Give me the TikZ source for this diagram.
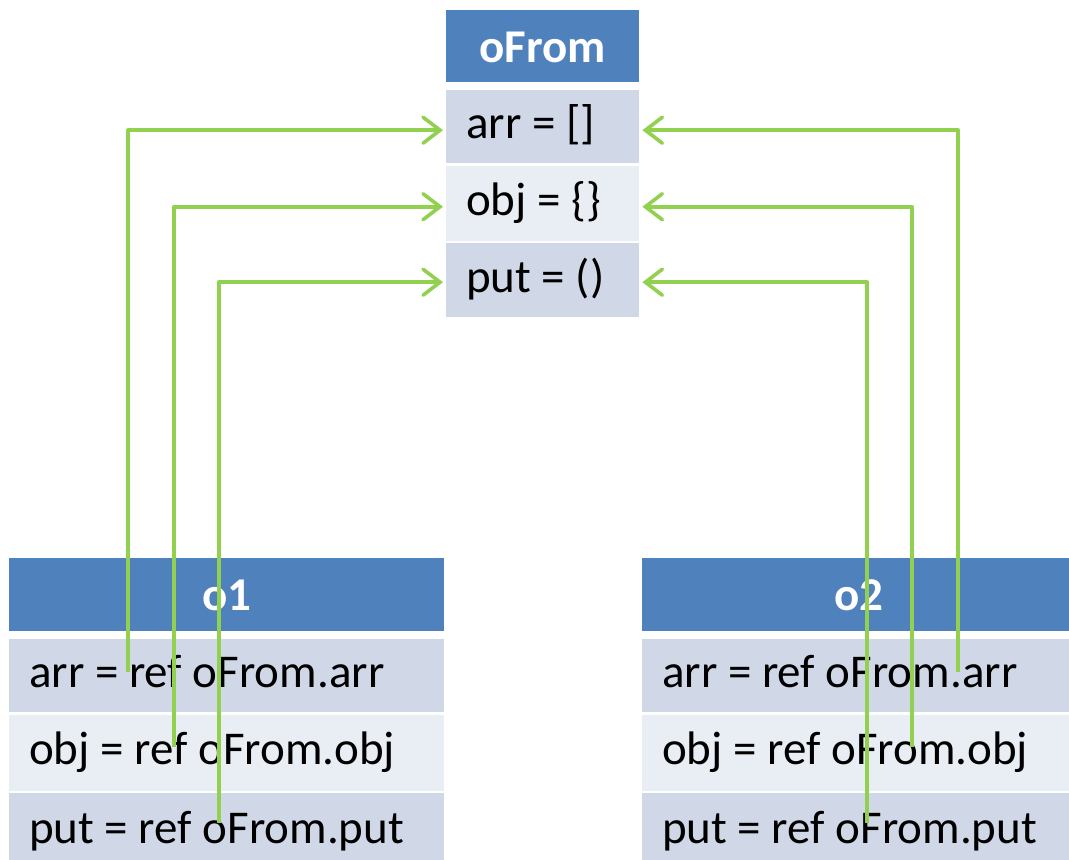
\documentclass[tikz,border=0pt]{standalone}
\usepackage{fontspec}
\setmainfont{Carlito}
\usetikzlibrary{arrows.meta}
\definecolor{hdr}{HTML}{4F81BD}
\definecolor{rowA}{HTML}{D0D8E8}
\definecolor{rowB}{HTML}{E9EDF4}
\definecolor{linkc}{HTML}{92D050}
\begin{document}
\begin{tikzpicture}[x=1pt,y=-1pt,
  cell/.style={rectangle, anchor=north west, inner xsep=20pt, inner ysep=0pt,
    font=\fontsize{47}{56}\selectfont, text height=34pt, text depth=10pt, align=flush left},
  headcell/.style={cell, fill=hdr, text=white, align=flush center,
    font=\fontsize{47}{56}\selectfont\bfseries, text height=36pt, text depth=4pt},
  rowa/.style={cell, fill=rowA},
  rowb/.style={cell, fill=rowB},
  link/.style={draw=linkc, line width=3.6pt, line join=round,
    -{Straight Barb[length=17pt,width=26pt,line cap=round]}, shorten >=3pt}]
\useasboundingbox (0,0) rectangle (1069,860);
\fill[white] (0,0) rectangle (1069,860);
% oFrom
\node[headcell, text width=153pt, minimum height=72pt] (fhead) at (446,10) {oFrom};
\node[rowa, text width=153pt, minimum height=73pt] (farr) at (446,90) {arr = []};
\node[rowb, text width=153pt, minimum height=75pt] (fobj) at (446,165.5) {obj = \{\}};
\node[rowa, text width=153pt, minimum height=74pt] (fput) at (446,243) {put = ()};
% o1
\node[headcell, text width=395pt, minimum height=73pt] (ahead) at (9,558) {o1};
\node[rowa, text width=395pt, minimum height=73pt] (aarr) at (9,639) {arr = ref oFrom.arr};
\node[rowb, text width=395pt, minimum height=76pt] (aobj) at (9,714.5) {obj = ref oFrom.obj};
\node[rowa, text width=395pt, minimum height=77pt] (aput) at (9,793) {put = ref oFrom.put};
% o2
\node[headcell, text width=394pt, minimum height=73pt] (bhead) at (642,558) {o2};
\node[rowa, text width=394pt, minimum height=73pt] (barr) at (642,639) {arr = ref oFrom.arr};
\node[rowb, text width=394pt, minimum height=76pt] (bobj) at (642,714.5) {obj = ref oFrom.obj};
\node[rowa, text width=394pt, minimum height=77pt] (bput) at (642,793) {put = ref oFrom.put};
% connector start points
\coordinate (sa1) at (128,672);
\coordinate (so1) at (174,747);
\coordinate (sp1) at (219,823);
\coordinate (sa2) at (958,672);
\coordinate (so2) at (912,747);
\coordinate (sp2) at (867,823);
\draw[link] (sa1) |- ([yshift=-3.5pt]farr.west);
\draw[link] (so1) |- ([yshift=-3.5pt]fobj.west);
\draw[link] (sp1) |- ([yshift=-2pt]fput.west);
\draw[link] (sa2) |- ([yshift=-3.5pt]farr.east);
\draw[link] (so2) |- ([yshift=-3.5pt]fobj.east);
\draw[link] (sp2) |- ([yshift=-2pt]fput.east);
\end{tikzpicture}
\end{document}
